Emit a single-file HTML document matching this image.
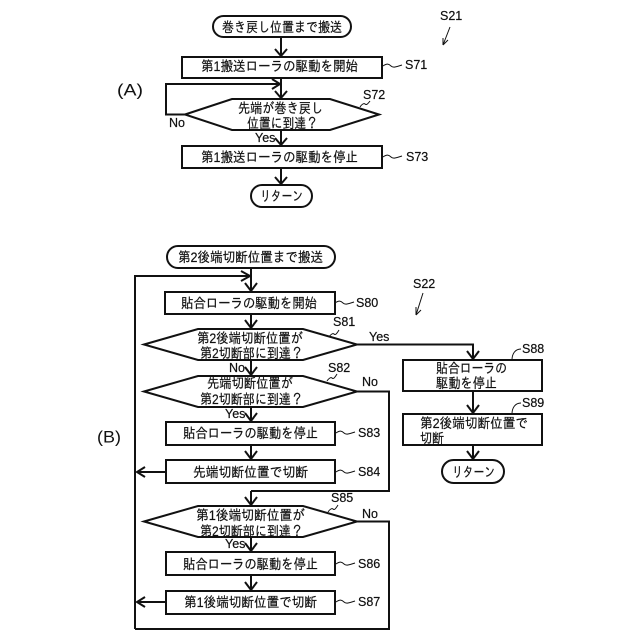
<!DOCTYPE html>
<html><head><meta charset="utf-8">
<style>
html,body{margin:0;padding:0;background:#fff}
svg{display:block}
text{font-family:"Liberation Sans","IPAGothic","Noto Sans CJK JP",sans-serif;font-size:14px;fill:#111;dominant-baseline:central;stroke:#111;stroke-width:.2}
.s{fill:none;stroke:#111;stroke-width:2}
.t{fill:none;stroke:#111;stroke-width:1}
</style></head><body>
<svg width="640" height="640" viewBox="0 0 640 640" xmlns="http://www.w3.org/2000/svg">
<g class="s">
<!-- A -->
<rect x="213" y="16" width="138" height="21" rx="10.5"/>
<rect x="182" y="57" width="200" height="21"/>
<polygon points="185,114.500 232,99 330,99 379,114.500 330,130 232,130"/>
<rect x="182" y="146" width="200" height="22"/>
<rect x="251" y="185" width="61" height="22" rx="11"/>
<path d="M281 37V56M281 78V99M281 130V146M281 168V185"/>
<path d="M185 114.500H166V84H280"/>
<path d="M275 49L281 56L287 49M275 91L281 98L287 91M275 138L281 145L287 138M275 177L281 184L287 177M272 79L280 84L272 89"/>
<!-- B -->
<rect x="167" y="246" width="168" height="22" rx="11"/>
<rect x="165" y="292" width="170" height="22"/>
<polygon points="144,344.500 198,329 303,329 357,344.500 303,360 198,360"/>
<polygon points="144,391.500 198,376 303,376 357,391.500 303,407 198,407"/>
<rect x="166" y="422" width="169" height="23"/>
<rect x="166" y="460" width="169" height="23"/>
<polygon points="144,521.500 198,506 303,506 357,521.500 303,537 198,537"/>
<rect x="166" y="552" width="169" height="23"/>
<rect x="166" y="591" width="169" height="23"/>
<rect x="403" y="360" width="139" height="31"/>
<rect x="403" y="414" width="139" height="31"/>
<rect x="442" y="460" width="62" height="23" rx="11.500"/>
<path d="M251 268V291M251 314V328M251 360V375M251 407V421M251 445V459M251 491V505M251 537V551M251 575V590"/>
<path d="M135 629V276H250M135 629H389V521.500H357"/>
<path d="M357 391.500H389V491H251"/>
<path d="M357 344.500H473V359M473 391V413M473 445V459"/>
<path d="M166 472H137M166 602H137"/>
<path d="M245 283L251 291L257 283M245 320L251 328L257 320M245 367L251 375L257 367M245 413L251 421L257 413M245 451L251 459L257 451M245 497L251 505L257 497M245 543L251 551L257 543M245 582L251 590L257 582M467 351L473 359L479 351M467 405L473 413L479 405M467 451L473 459L479 451"/>
<path d="M241 271L250 276L241 281M145 467L137 472L145 477M145 597L137 602L145 607"/>
</g>
<g class="t">
<path d="M383 66c4-3 6-2 8 0s5 1 11-1M383 157c4-3 6-2 8 0s5 1 11-1"/>
<path d="M360 107c2-3 4-4 5-3s2 1 5-3"/>
<path d="M335 303c4-3 6-2 8 0s5 1 11-1M336 433c4-3 6-2 8 0s5 1 11-1M336 472c4-3 6-2 8 0s5 1 11-1M336 564c4-3 6-2 8 0s5 1 11-1M336 602c4-3 6-2 8 0s5 1 11-1"/>
<path d="M329 337c2-3 4-4 5-3s2 1 5-4M327 381c2-3 4-4 5-3s2 1 5-4M328 512c2-3 4-4 5-3s2 1 5-4"/>
<path d="M512 360c0-6 3-11 9-11M512 414c0-6 3-11 9-11"/>
<path d="M450 27L443 45M443 45L443 38M443 45L448 40M423 293L416 315M416 315L416 307M416 315L421 310"/>
</g>
<!-- A text -->
<text x="222" y="27" textLength="120" lengthAdjust="spacingAndGlyphs">巻き戻し位置まで搬送</text>
<text x="201" y="66" textLength="157" lengthAdjust="spacingAndGlyphs">第1搬送ローラの駆動を開始</text>
<text x="238" y="108" textLength="85" lengthAdjust="spacingAndGlyphs">先端が巻き戻し</text>
<text x="247" y="123" textLength="71" lengthAdjust="spacingAndGlyphs">位置に到達？</text>
<text x="201" y="157" textLength="157" lengthAdjust="spacingAndGlyphs">第1搬送ローラの駆動を停止</text>
<text x="260" y="196" textLength="43" lengthAdjust="spacingAndGlyphs">リターン</text>
<text x="169" y="123" style="font-size:12.500px">No</text>
<text x="255" y="138" style="font-size:12.500px">Yes</text>
<text x="405" y="65" style="font-size:12.500px">S71</text>
<text x="363" y="95" style="font-size:12.500px">S72</text>
<text x="406" y="157" style="font-size:12.500px">S73</text>
<text x="440" y="16" style="font-size:12.500px">S21</text>
<text x="117" y="90" textLength="26" lengthAdjust="spacingAndGlyphs" style="font-size:17px;stroke-width:0">(A)</text>
<!-- B text -->
<text x="178" y="257" textLength="145" lengthAdjust="spacingAndGlyphs">第2後端切断位置まで搬送</text>
<text x="181" y="303" textLength="136" lengthAdjust="spacingAndGlyphs">貼合ローラの駆動を開始</text>
<text x="197" y="338" textLength="106" lengthAdjust="spacingAndGlyphs">第2後端切断位置が</text>
<text x="200" y="353" textLength="103" lengthAdjust="spacingAndGlyphs">第2切断部に到達？</text>
<text x="207" y="383" textLength="86" lengthAdjust="spacingAndGlyphs">先端切断位置が</text>
<text x="200" y="399" textLength="103" lengthAdjust="spacingAndGlyphs">第2切断部に到達？</text>
<text x="183" y="433" textLength="135" lengthAdjust="spacingAndGlyphs">貼合ローラの駆動を停止</text>
<text x="193" y="472" textLength="115" lengthAdjust="spacingAndGlyphs">先端切断位置で切断</text>
<text x="196" y="515" textLength="109" lengthAdjust="spacingAndGlyphs">第1後端切断位置が</text>
<text x="200" y="531" textLength="103" lengthAdjust="spacingAndGlyphs">第2切断部に到達？</text>
<text x="183" y="564" textLength="135" lengthAdjust="spacingAndGlyphs">貼合ローラの駆動を停止</text>
<text x="184" y="602" textLength="133" lengthAdjust="spacingAndGlyphs">第1後端切断位置で切断</text>
<text x="436" y="368" textLength="71" lengthAdjust="spacingAndGlyphs">貼合ローラの</text>
<text x="436" y="383" textLength="61" lengthAdjust="spacingAndGlyphs">駆動を停止</text>
<text x="420" y="423" textLength="108" lengthAdjust="spacingAndGlyphs">第2後端切断位置で</text>
<text x="420" y="438" textLength="24" lengthAdjust="spacingAndGlyphs">切断</text>
<text x="452" y="472" textLength="43" lengthAdjust="spacingAndGlyphs">リターン</text>
<text x="369" y="337" style="font-size:12.500px">Yes</text>
<text x="229" y="368" style="font-size:12.500px">No</text>
<text x="362" y="382" style="font-size:12.500px">No</text>
<text x="225" y="414" style="font-size:12.500px">Yes</text>
<text x="362" y="514" style="font-size:12.500px">No</text>
<text x="225" y="544" style="font-size:12.500px">Yes</text>
<text x="356" y="303" style="font-size:12.500px">S80</text>
<text x="333" y="322" style="font-size:12.500px">S81</text>
<text x="328" y="368" style="font-size:12.500px">S82</text>
<text x="358" y="433" style="font-size:12.500px">S83</text>
<text x="358" y="472" style="font-size:12.500px">S84</text>
<text x="331" y="498" style="font-size:12.500px">S85</text>
<text x="358" y="564" style="font-size:12.500px">S86</text>
<text x="358" y="602" style="font-size:12.500px">S87</text>
<text x="522" y="349" style="font-size:12.500px">S88</text>
<text x="522" y="403" style="font-size:12.500px">S89</text>
<text x="413" y="284" style="font-size:12.500px">S22</text>
<text x="97" y="437" textLength="24" lengthAdjust="spacingAndGlyphs" style="font-size:17px;stroke-width:0">(B)</text>
</svg>
</body></html>
